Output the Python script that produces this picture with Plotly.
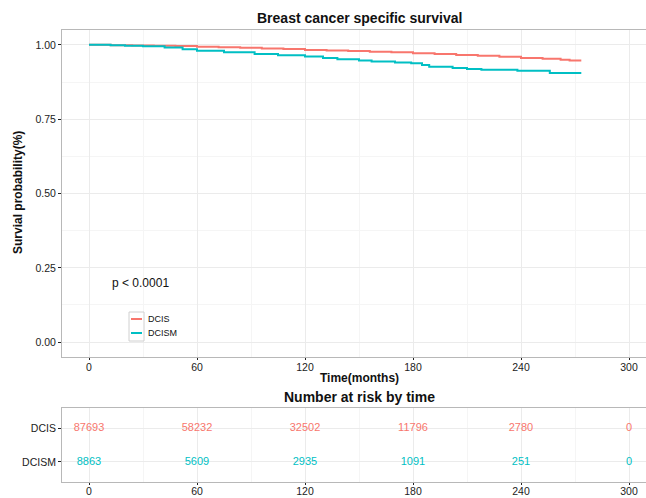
import plotly.graph_objects as go

# ---- data ----
groups = ["DCIS", "DCISM"]
colors = {"DCIS": "#F8766D", "DCISM": "#00BFC4"}

dcis_time = [0, 12, 24, 36, 48, 60, 72, 84, 96, 108, 120, 132, 144, 156, 168,
             180, 192, 204, 216, 228, 240, 252, 262, 267, 273.5]
dcis_surv = [1.000, 0.999, 0.998, 0.997, 0.996, 0.994, 0.992, 0.990, 0.988, 0.986,
             0.983, 0.981, 0.979, 0.977, 0.975, 0.972, 0.969, 0.966, 0.963, 0.960,
             0.956, 0.953, 0.950, 0.947, 0.947]

dcism_time = [0, 12, 20, 30, 42, 52, 60, 75, 92, 105, 120, 130, 138, 150, 157,
              170, 179, 185, 189, 202, 210, 218, 238, 256, 273.5]
dcism_surv = [1.000, 0.999, 0.997, 0.995, 0.991, 0.985, 0.980, 0.975, 0.969, 0.965,
              0.961, 0.956, 0.952, 0.947, 0.944, 0.941, 0.938, 0.932, 0.926, 0.922,
              0.919, 0.916, 0.913, 0.905, 0.905]

risk_times = [0, 60, 120, 180, 240, 300]
risk_dcis = [87693, 58232, 32502, 11796, 2780, 0]
risk_dcism = [8863, 5609, 2935, 1091, 251, 0]

y_ticks = [0, 0.25, 0.5, 0.75, 1.0]
y_ticktext = ["0.00", "0.25", "0.50", "0.75", "1.00"]
x_ticks = [0, 60, 120, 180, 240, 300]

W, H = 646, 498
FONT = "Liberation Sans, Arial, sans-serif"
GRID = "#EBEBEB"
BORDER = "#B8B8B8"
TICKCOL = "#222222"
TICKSIZE = 10.5

fig = go.Figure()

fig.add_trace(go.Scatter(x=dcis_time, y=dcis_surv, mode="lines", line_shape="hv",
                         line=dict(color=colors["DCIS"], width=2), name="DCIS",
                         xaxis="x", yaxis="y", showlegend=False))
fig.add_trace(go.Scatter(x=dcism_time, y=dcism_surv, mode="lines", line_shape="hv",
                         line=dict(color=colors["DCISM"], width=2), name="DCISM",
                         xaxis="x", yaxis="y", showlegend=False))

# risk table
fig.add_trace(go.Scatter(x=risk_times, y=[2] * len(risk_times), mode="text",
                         text=[str(v) for v in risk_dcis],
                         textfont=dict(color=colors["DCIS"], size=11, family=FONT),
                         xaxis="x2", yaxis="y2", showlegend=False, cliponaxis=False))
fig.add_trace(go.Scatter(x=risk_times, y=[1] * len(risk_times), mode="text",
                         text=[str(v) for v in risk_dcism],
                         textfont=dict(color=colors["DCISM"], size=11, family=FONT),
                         xaxis="x2", yaxis="y2", showlegend=False, cliponaxis=False))

x_dom = [62 / W, 1.0]
x_range = [-15, (W - 89) / 1.8]

common_x = dict(domain=x_dom, range=x_range, tickvals=x_ticks, showgrid=True,
                gridcolor=GRID, gridwidth=1, zeroline=False, showline=True,
                linecolor=BORDER, linewidth=1, mirror=True, ticks="outside",
                ticklen=2, tickcolor=TICKCOL, automargin=False,
                tickfont=dict(size=TICKSIZE, color=TICKCOL, family=FONT),
                minor=dict(dtick=30, tick0=30, showgrid=True, gridcolor="#F5F5F5", ticks=""))

fig.update_layout(
    width=W, height=H,
    margin=dict(l=0, r=0, t=0, b=0, autoexpand=False),
    paper_bgcolor="white", plot_bgcolor="white",
    font=dict(family=FONT, color=TICKCOL),
    xaxis=dict(anchor="y", ticklabelstandoff=-2, **common_x),
    yaxis=dict(domain=[1 - 357 / H, 1 - 30 / H], range=[-0.05, 1.05], anchor="x",
               tickvals=y_ticks, ticktext=y_ticktext, showgrid=True, gridcolor=GRID,
               zeroline=False, showline=True, linecolor=BORDER, linewidth=1, mirror=True,
               ticks="outside", ticklen=3, tickcolor=TICKCOL, automargin=False,
               tickfont=dict(size=TICKSIZE, color=TICKCOL, family=FONT),
               minor=dict(dtick=0.25, tick0=0.125, showgrid=True, gridcolor="#F5F5F5", ticks="")),
    xaxis2=dict(anchor="y2", ticklabelstandoff=-3, **common_x),
    yaxis2=dict(domain=[1 - 482 / H, 1 - 408 / H], range=[0.4, 2.6], anchor="x2",
                tickvals=[1, 2], ticktext=["DCISM", "DCIS"], showgrid=True, gridcolor=GRID,
                zeroline=False, showline=True, linecolor=BORDER, linewidth=1, mirror=True,
                ticks="outside", ticklen=3, tickcolor=TICKCOL, automargin=False,
                tickfont=dict(size=TICKSIZE, color=TICKCOL, family=FONT)),
)

def A(text, x, y, xref="paper", xanchor="center", size=12, **kw):
    return dict(text=text, x=x, y=y, xref=xref, yref="paper", xanchor=xanchor,
                yanchor="middle", showarrow=False,
                font=dict(size=size, color="#111", family=FONT), **kw)

ann = [
    A("<b>Breast cancer specific survival</b>", 150, 1 - 18 / H, xref="x", size=14),
    A("<b>Time(months)</b>", 150, 1 - 378 / H, xref="x", size=12),
    A("<b>Number at risk by time</b>", 150, 1 - 397 / H, xref="x", size=14),
    A("<b>Survial probability(%)</b>", 18 / W, 1 - 193 / H, size=12, textangle=-90),
    A("p < 0.0001", 110 / W, 1 - 283 / H, xanchor="left", size=12),
]
# manual legend
leg_rows = [(groups[0], 1 - 319 / H), (groups[1], 1 - 333 / H)]
shapes = [dict(type="rect", xref="paper", yref="paper", x0=129 / W, x1=144 / W,
               y0=1 - 341 / H, y1=1 - 312 / H, line=dict(color="#D0D0D0", width=1),
               fillcolor="white", layer="above")]
for g, yy in leg_rows:
    shapes.append(dict(type="line", xref="paper", yref="paper", x0=131 / W, x1=142 / W,
                       y0=yy, y1=yy, line=dict(color=colors[g], width=2), layer="above"))
    ann.append(A(g, 146 / W, yy, xanchor="left", size=9))

fig.update_layout(annotations=ann, shapes=shapes)
fig.write_html("out.html", config={"displayModeBar": False},
               post_script="document.body.style.margin='0';document.body.style.overflow='hidden';")
